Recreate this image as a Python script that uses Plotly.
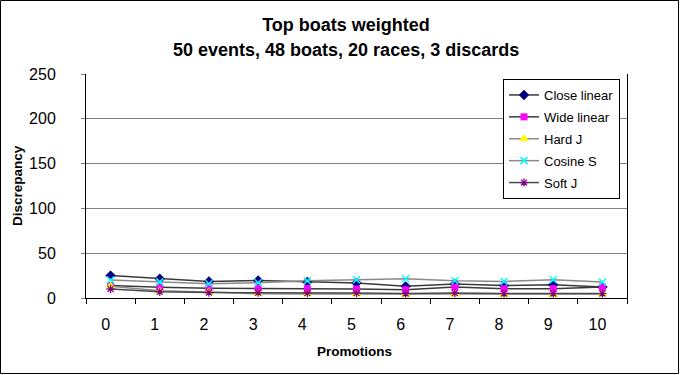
import plotly.graph_objects as go

promotions = [0, 1, 2, 3, 4, 5, 6, 7, 8, 9, 10]
close_linear = [25, 21.5, 18.5, 19.6, 17.8, 16.7, 13, 15.6, 14, 14.8, 12.2]
wide_linear = [14, 12, 11, 11, 10.4, 10, 9.2, 12.2, 10.4, 10.4, 12.2]
hard_j = [13, 8, 6.7, 4.8, 4.4, 4.4, 3.7, 4.4, 3.7, 3.7, 4.4]
cosine_s = [20, 18, 16, 17, 19.3, 20.4, 21.5, 19.3, 18.5, 20.4, 17.8]
soft_j = [10, 7, 6, 6, 5.5, 5.5, 5, 5.5, 5, 5, 5]
y_ticks = [0, 50, 100, 150, 200, 250]
title_line1 = "Top boats weighted"
title_line2 = "50 events, 48 boats, 20 races, 3 discards"

series = [
    ("Close linear", close_linear, dict(symbol="diamond", size=8, color="#000080"), "#3a3a3a"),
    ("Wide linear", wide_linear, dict(symbol="square", size=7, color="#FF00FF"), "#3a3a3a"),
    ("Hard J", hard_j, dict(symbol="triangle-up", size=9, color="#FFFF00"), "#8a8a8a"),
    ("Cosine S", cosine_s, dict(symbol="x-thin-open", size=7, color="#00FFFF",
                                line=dict(color="#00E5FF", width=1.5)), "#8a8a8a"),
    ("Soft J", soft_j, dict(symbol="asterisk-open", size=7, color="#800080",
                            line=dict(color="#800080", width=1.2)), "#4a4a4a"),
]

fig = go.Figure()
for i, (name, vals, marker, lc) in enumerate(series):
    fig.add_trace(go.Scatter(
        x=promotions, y=vals, name=name, mode="lines+markers",
        line=dict(color=lc, width=1.5), marker=marker, legendgroup=f"g{i}",
    ))

W, H = 680, 375
L, R, T, B = 86, 53, 74, 77
pw, ph = W - L - R, H - T - B

def px_x(p):
    return (p - L) / pw

def px_y(p):
    return (H - B - p) / ph

fig.update_layout(
    width=W, height=H,
    margin=dict(l=L, r=R, t=T, b=B),
    paper_bgcolor="white", plot_bgcolor="white",
    font=dict(family="Liberation Sans, Arial, sans-serif", color="black", size=16),
    title=dict(
        text=title_line1,
        x=346 / W, xanchor="center", xref="container",
        y=1 - 25 / H, yanchor="middle", yref="container",
        font=dict(size=18, family="Liberation Sans, Arial, sans-serif", weight="bold"),
    ),
    showlegend=True,
    legend=dict(
        x=px_x(503), y=px_y(79), xanchor="left", yanchor="top",
        bgcolor="white", bordercolor="black", borderwidth=1,
        font=dict(size=13), tracegroupgap=2, itemwidth=30,
    ),
    xaxis=dict(
        range=[-0.5, 10.5], tickmode="array", tickvals=promotions,
        ticktext=[str(p) for p in promotions],
        showgrid=False, zeroline=False, showline=True, linecolor="black", linewidth=1,
        ticks="", tickfont=dict(size=16), ticklabelshift=-5, ticklabelstandoff=12,
        minor=dict(tickmode="array", tickvals=[p + 0.5 for p in [-1] + promotions],
                   ticks="outside", ticklen=5, tickcolor="black"),
    ),
    yaxis=dict(
        range=[0, 250], tickmode="array", tickvals=y_ticks,
        showgrid=True, gridcolor="#808080", gridwidth=1, zeroline=False,
        showline=True, linecolor="black", linewidth=1, mirror=True,
        ticks="outside", ticklen=4, tickcolor="#808080",
        tickfont=dict(size=16), ticklabelstandoff=22,
    ),
    annotations=[
        dict(text="<b>" + title_line2 + "</b>", x=346 / W, y=1 - 50 / H,
             xref="paper" if False else "paper", yref="paper",
             showarrow=False, font=dict(size=18), xanchor="center", yanchor="middle"),
        dict(text="<b>Discrepancy</b>", textangle=-90, x=px_x(17), y=0.5,
             xref="paper", yref="paper", showarrow=False, font=dict(size=13.5),
             xanchor="center", yanchor="middle"),
        dict(text="<b>Promotions</b>", x=px_x(354.5), y=px_y(351.7),
             xref="paper", yref="paper", showarrow=False, font=dict(size=13.5),
             xanchor="center", yanchor="middle"),
    ],
    shapes=[
        dict(type="rect", xref="paper", yref="paper",
             x0=px_x(0.5), x1=px_x(678.5), y0=px_y(0.5), y1=px_y(373.5),
             line=dict(color="black", width=1), layer="below"),
    ],
)
# second title line placed in pixel terms
fig.layout.annotations[0].update(x=px_x(346), y=px_y(50))

fig.write_html("out.html", post_script="document.body.style.margin='0';",
               config={"displayModeBar": False})
